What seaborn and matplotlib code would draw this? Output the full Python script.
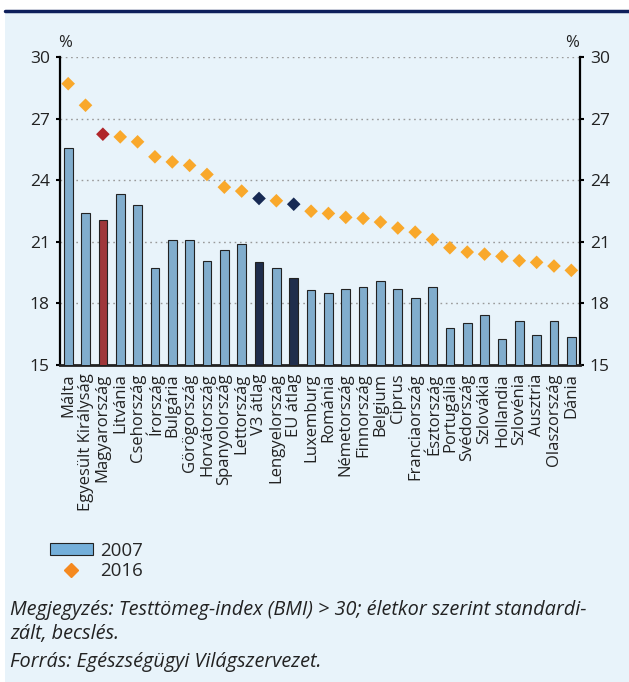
import matplotlib
matplotlib.use("Agg")
import numpy as np
import pandas as pd
import matplotlib.pyplot as plt
import matplotlib.patches as mpatches
from matplotlib.lines import Line2D
import seaborn as sns

# data
countries = ["Málta", "Egyesült Királyság", "Magyarország", "Litvánia", "Csehország",
             "Írország", "Bulgária", "Görögország", "Horvátország", "Spanyolország",
             "Lettország", "V3 átlag", "Lengyelország", "EU átlag", "Luxemburg",
             "Románia", "Németország", "Finnország", "Belgium", "Ciprus",
             "Franciaország", "Észtország", "Portugália", "Svédország", "Szlovákia",
             "Hollandia", "Szlovénia", "Ausztria", "Olaszország", "Dánia"]
values_2007 = [25.55, 22.38, 22.07, 23.35, 22.79, 19.72, 21.1, 21.1, 20.08, 20.6,
               20.9, 20.0, 19.72, 19.22, 18.63, 18.5, 18.71, 18.81, 19.1, 18.71,
               18.24, 18.81, 16.78, 17.03, 17.43, 16.27, 17.12, 16.46, 17.12, 16.36]
values_2016 = [28.7, 27.65, 26.24, 26.11, 25.87, 25.14, 24.89, 24.72, 24.28, 23.66,
               23.47, 23.11, 23.0, 22.83, 22.49, 22.38, 22.19, 22.14, 21.96, 21.67,
               21.47, 21.11, 20.71, 20.5, 20.4, 20.29, 20.08, 20.0, 19.82, 19.61]
y_ticks = [15, 18, 21, 24, 27, 30]

BG = "#E8F3FA"
BAR = "#74AFDA"
RED = "#B0262A"
NAVY = "#172A54"
ORANGE = "#F9A82B"

bar_colors = {c: BAR for c in countries}
dot_colors = {c: ORANGE for c in countries}
bar_colors["Magyarország"] = dot_colors["Magyarország"] = RED
for c in ["V3 átlag", "EU átlag"]:
    bar_colors[c] = dot_colors[c] = NAVY

df = pd.DataFrame({"country": countries, "y2007": values_2007, "y2016": values_2016})

sns.set_theme(style="white")
plt.rcParams["font.family"] = ["Open Sans", "DejaVu Sans"]

fig = plt.figure(figsize=(6.29, 6.82), dpi=100, facecolor="white")
fig.patches.append(mpatches.Rectangle((5 / 629, 0), 1, 1 - 12 / 682, transform=fig.transFigure,
                                      facecolor=BG, edgecolor="none", zorder=-10))
fig.add_artist(Line2D([5 / 629, 1], [1 - 11 / 682, 1 - 11 / 682], color="#0E1F5B", lw=2.5))

ax = fig.add_axes([59.5 / 629, 1 - 365 / 682, (580 - 59.5) / 629, (365 - 57) / 682])
ax.set_facecolor(BG)

sns.barplot(data=df, x="country", y="y2007", hue="country", palette=bar_colors,
            width=0.5, edgecolor="#222222", linewidth=0.8, legend=False, ax=ax, zorder=3)
sns.scatterplot(data=df, x="country", y="y2016", hue="country", palette=dot_colors,
                marker="D", s=48, linewidth=0, legend=False, ax=ax, zorder=4)

ax.set_ylim(15, 30)
ax.set_xlim(-0.5, len(countries) - 0.5)
ax.set_yticks(y_ticks)
ax.set_xlabel("")
ax.set_ylabel("")
ax.yaxis.grid(True, linestyle=(0, (1.2, 2.6)), color="#9A9A9A", linewidth=1.0, zorder=0)
ax.set_axisbelow(True)

ax.tick_params(axis="y", which="major", left=True, right=True, labelleft=True, labelright=True,
               direction="out", length=3, width=1.5, color="black", labelsize=12.5, pad=4,
               labelcolor="#222222")
ax.set_xticks(range(len(countries)))
ax.set_xticklabels(countries, rotation=90, fontsize=12, color="#222222")
ax.tick_params(axis="x", which="major", length=0, pad=6)
ax.set_xticks(np.arange(-0.5, len(countries), 1.0), minor=True)
ax.tick_params(axis="x", which="minor", length=3, width=1.5, color="black", direction="out")

for side in ["left", "right"]:
    ax.spines[side].set_visible(True)
    ax.spines[side].set_color("black")
    ax.spines[side].set_linewidth(1.6)
ax.spines["bottom"].set_color("#222222")
ax.spines["bottom"].set_linewidth(2)
ax.spines["top"].set_visible(False)

fig.text(65 / 629, 1 - 43 / 682, "%", fontsize=12, color="#222222", ha="center", va="center")
fig.text(572 / 629, 1 - 43 / 682, "%", fontsize=12, color="#222222", ha="center", va="center")

handles = [mpatches.Patch(facecolor=BAR, edgecolor="#222222", linewidth=0.8, label="2007"),
           Line2D([], [], marker="D", color="#F5891F", linestyle="none", markersize=7, label="2016")]
fig.legend(handles=handles, loc="upper left", bbox_to_anchor=(42 / 629, 1 - 534 / 682),
           frameon=False, fontsize=13.5, handlelength=2.3, handleheight=0.6,
           labelspacing=0.15, handletextpad=0.4, borderaxespad=0)

fig.text(10 / 629, 1 - 610 / 682,
         "Megjegyzés: Testtömeg-index (BMI) > 30; életkor szerint standardi-",
         fontsize=14.3, style="italic", color="#222222", va="center")
fig.text(10 / 629, 1 - 634 / 682, "zált, becslés.",
         fontsize=14.3, style="italic", color="#222222", va="center")
fig.text(10 / 629, 1 - 662 / 682, "Forrás: Egészségügyi Világszervezet.",
         fontsize=14.3, style="italic", color="#222222", va="center")

fig.savefig("out.png", dpi=100, facecolor=fig.get_facecolor())
